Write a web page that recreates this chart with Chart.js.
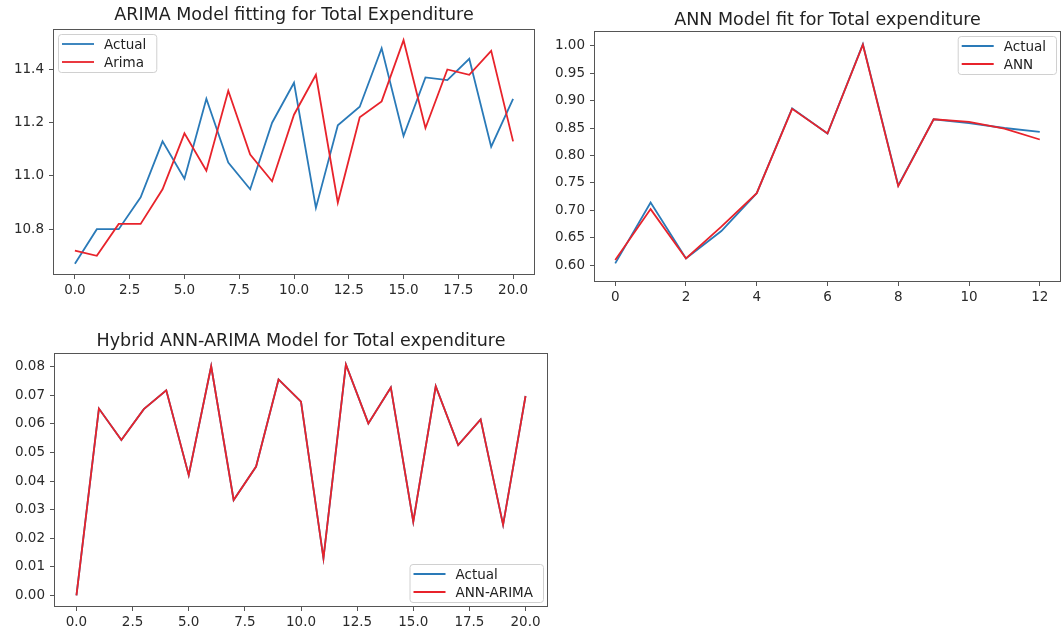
<!DOCTYPE html>
<html>
<head>
<meta charset="utf-8">
<script src="https://cdn.jsdelivr.net/npm/chart.js@4.4.1/dist/chart.umd.min.js"></script>
<style>
  body { margin: 0; background: #fff; width: 1063px; height: 626px; position: relative; overflow: hidden; }
  canvas { position: absolute; }
</style>
</head>
<body>
<canvas id="arimaChart" width="545" height="305" style="left:0;top:0"></canvas>
<canvas id="annChart" width="518" height="305" style="left:545px;top:0"></canvas>
<canvas id="hybridChart" width="560" height="321" style="left:0;top:305px"></canvas>
<script>
// time index (x axis)
const idx21 = [0, 1, 2, 3, 4, 5, 6, 7, 8, 9, 10, 11, 12, 13, 14, 15, 16, 17, 18, 19, 20];
const idx13 = [0, 1, 2, 3, 4, 5, 6, 7, 8, 9, 10, 11, 12];

// ARIMA panel
const arimaActual = [10.67, 10.80, 10.80, 10.92, 11.13, 10.99, 11.29, 11.05, 10.95, 11.20, 11.35,
                     10.88, 11.19, 11.26, 11.48, 11.15, 11.37, 11.36, 11.44, 11.11, 11.29];
const arimaFit    = [10.72, 10.70, 10.82, 10.82, 10.95, 11.16, 11.02, 11.32, 11.08, 10.98, 11.23,
                     11.38, 10.90, 11.22, 11.28, 11.51, 11.18, 11.40, 11.38, 11.47, 11.13];

// ANN panel
const annActual = [0.603, 0.714, 0.612, 0.662, 0.731, 0.886, 0.840, 1.003, 0.745, 0.866, 0.859, 0.850, 0.843];
const annFit    = [0.609, 0.702, 0.612, 0.670, 0.731, 0.885, 0.840, 1.002, 0.744, 0.866, 0.861, 0.849, 0.829];

// Hybrid panel (actual lies under the fit)
const hybridActual = [0.0000, 0.0654, 0.0544, 0.0652, 0.0718, 0.0421, 0.0802, 0.0334, 0.0451, 0.0756, 0.0678,
                      0.0130, 0.0808, 0.0602, 0.0728, 0.0258, 0.0732, 0.0526, 0.0616, 0.0247, 0.0698];
const hybridFit    = [0.0000, 0.0654, 0.0544, 0.0652, 0.0718, 0.0421, 0.0802, 0.0334, 0.0451, 0.0756, 0.0678,
                      0.0130, 0.0808, 0.0602, 0.0728, 0.0258, 0.0732, 0.0526, 0.0616, 0.0247, 0.0698];

// tick labels
const xTicks21 = [0, 2.5, 5, 7.5, 10, 12.5, 15, 17.5, 20];
const xTicks13 = [0, 2, 4, 6, 8, 10, 12];
const yTicksArima = [10.8, 11.0, 11.2, 11.4];
const yTicksAnn = [0.60, 0.65, 0.70, 0.75, 0.80, 0.85, 0.90, 0.95, 1.00];
const yTicksHybrid = [0.00, 0.01, 0.02, 0.03, 0.04, 0.05, 0.06, 0.07, 0.08];

// ANN panel ki y limits picture se padhi
const annYLimits = [0.569, 1.027];

const FONT = '"DejaVu Sans", sans-serif';
const BLUE = '#2a7ab8';
const RED = '#e8232b';

// matplotlib ka frame + legend andar chart area me
const mplLegend = {
    id: 'mplLegend',
    afterDatasetsDraw(chart, args, opts) {
        const { ctx, chartArea: a } = chart;
        ctx.save();
        ctx.strokeStyle = '#555';
        ctx.lineWidth = 1;
        ctx.strokeRect(a.left + 0.5, a.top + 0.5, a.right - a.left - 1, a.bottom - a.top - 1);

        ctx.font = '13.5px ' + FONT;
        const items = chart.data.datasets;
        const rowH = 18, padL = 4, lineLen = 32, gap = 10, padR = 10, off = 5;
        const textW = Math.max(...items.map(d => ctx.measureText(d.label).width));
        const w = padL + lineLen + gap + textW + padR;
        const h = 20 + rowH * (items.length - 1);
        const x = opts.corner.endsWith('l') ? a.left + off : a.right - off - w;
        const y = opts.corner.startsWith('u') ? a.top + off : a.bottom - off - h;

        ctx.beginPath();
        ctx.roundRect(x + 0.5, y + 0.5, w, h, 3);
        ctx.fillStyle = 'rgba(255,255,255,0.85)';
        ctx.fill();
        ctx.strokeStyle = '#d0d0d0';
        ctx.stroke();

        items.forEach((d, i) => {
            const cy = y + 10 + rowH * i;
            ctx.beginPath();
            ctx.moveTo(x + padL, cy);
            ctx.lineTo(x + padL + lineLen, cy);
            ctx.strokeStyle = d.borderColor;
            ctx.lineWidth = 1.8;
            ctx.stroke();
            ctx.fillStyle = '#222';
            ctx.textBaseline = 'middle';
            ctx.textAlign = 'left';
            ctx.fillText(d.label, x + padL + lineLen + gap, cy + 1);
        });
        ctx.restore();
    }
};

// 5% margin jaise matplotlib deta hai
function margins(vals) {
    const lo = Math.min(...vals), hi = Math.max(...vals);
    const m = (hi - lo) * 0.05;
    return [lo - m, hi + m];
}

function lineChart(id, spec) {
    const [xMin, xMax] = margins(spec.xs);
    const [yMin, yMax] = spec.yLimits || margins(spec.series.flatMap(s => s.values));
    const tickStyle = { color: '#2a2a2a', font: { family: FONT, size: 13.5 }, autoSkip: false, maxRotation: 0 };
    const gridStyle = { drawOnChartArea: false, drawTicks: true, tickLength: 4, color: '#555' };
    return new Chart(document.getElementById(id), {
        type: 'line',
        data: {
            datasets: spec.series.map(s => ({
                label: s.label,
                data: spec.xs.map((x, i) => ({ x: x, y: s.values[i] })),
                borderColor: s.color,
                borderWidth: 1.8,
                pointRadius: 0,
                tension: 0,
                fill: false,
                order: s.order
            }))
        },
        options: {
            responsive: false,
            animation: false,
            devicePixelRatio: 1,
            layout: { padding: { left: 0, right: spec.padRight, top: 0, bottom: 0 } },
            plugins: {
                legend: { display: false },
                tooltip: { enabled: false },
                title: {
                    display: true,
                    text: spec.title,
                    fullSize: false,
                    color: '#222',
                    font: { family: FONT, size: 17.5, weight: 'normal', lineHeight: 1.2 },
                    padding: { top: spec.titleTop, bottom: spec.titleBottom }
                },
                mplLegend: { corner: spec.legendCorner }
            },
            scales: {
                x: {
                    type: 'linear',
                    min: xMin,
                    max: xMax,
                    afterBuildTicks: ax => { ax.ticks = spec.xTicks.map(v => ({ value: v })); },
                    afterFit: ax => { ax.height = spec.xAxisHeight; },
                    ticks: Object.assign({ padding: 3, callback: v => v.toFixed(spec.xDec) }, tickStyle),
                    grid: gridStyle,
                    border: { display: false }
                },
                y: {
                    type: 'linear',
                    min: yMin,
                    max: yMax,
                    afterBuildTicks: ax => { ax.ticks = spec.yTicks.map(v => ({ value: v })); },
                    afterFit: ax => { ax.width = spec.yAxisWidth; },
                    ticks: Object.assign({ padding: 5, callback: v => v.toFixed(spec.yDec) }, tickStyle),
                    grid: gridStyle,
                    border: { display: false }
                }
            }
        },
        plugins: [mplLegend]
    });
}

lineChart('arimaChart', {
    title: 'ARIMA Model fitting for Total Expenditure',
    xs: idx21, xTicks: xTicks21, yTicks: yTicksArima, xDec: 1, yDec: 1,
    series: [
        { label: 'Actual', values: arimaActual, color: BLUE, order: 2 },
        { label: 'Arima', values: arimaFit, color: RED, order: 1 }
    ],
    yAxisWidth: 53, xAxisHeight: 30, padRight: 10, titleTop: 4.5, titleBottom: 3.5, legendCorner: 'ul'
});

lineChart('annChart', {
    title: 'ANN Model fit for Total expenditure',
    xs: idx13, xTicks: xTicks13, yTicks: yTicksAnn, xDec: 0, yDec: 2, yLimits: annYLimits,
    series: [
        { label: 'Actual', values: annActual, color: BLUE, order: 2 },
        { label: 'ANN', values: annFit, color: RED, order: 1 }
    ],
    yAxisWidth: 49, xAxisHeight: 23, padRight: 2, titleTop: 9.5, titleBottom: 0.5, legendCorner: 'ur'
});

lineChart('hybridChart', {
    title: 'Hybrid ANN-ARIMA Model for Total expenditure',
    xs: idx21, xTicks: xTicks21, yTicks: yTicksHybrid, xDec: 1, yDec: 2,
    series: [
        { label: 'Actual', values: hybridActual, color: BLUE, order: 2 },
        { label: 'ANN-ARIMA', values: hybridFit, color: RED, order: 1 }
    ],
    yAxisWidth: 54, xAxisHeight: 19, padRight: 12, titleTop: 25.5, titleBottom: 1.5, legendCorner: 'lr'
});
</script>
</body>
</html>
